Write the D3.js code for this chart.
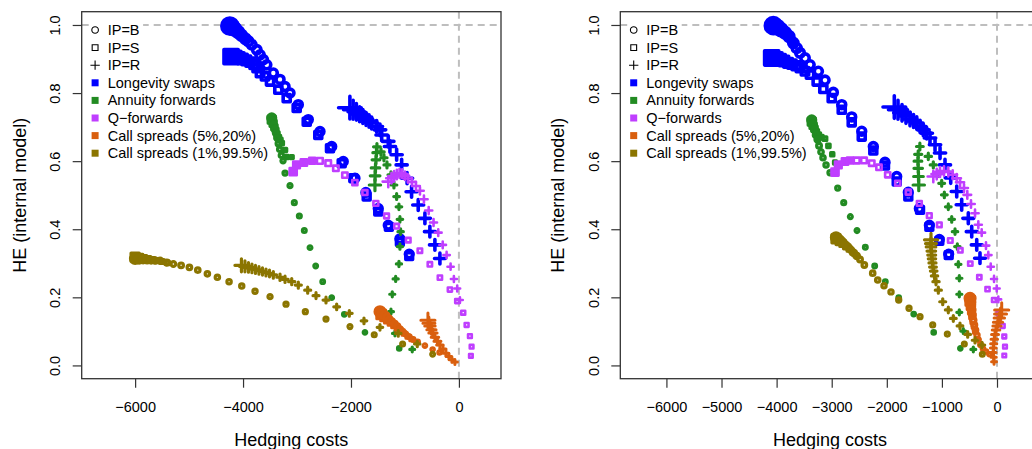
<!DOCTYPE html>
<html>
<head>
<meta charset="utf-8">
<script src="https://cdn.jsdelivr.net/npm/d3@7"></script>
<style>
	body { margin: 0; background: #fff; }
	svg text { font-family: "Liberation Sans", Arial, Helvetica, sans-serif; fill: #000; }
</style>
</head>
<body>
<div id="chart"></div>
<script>
// legend entries and axis ticks
var instruments = ['Longevity swaps', 'Annuity forwards', 'Q\u2212forwards', 'Call spreads (5%,20%)', 'Call spreads (1%,99.5%)'];
var ipLabels = ['IP=B', 'IP=S', 'IP=R'];
var yTicks = [0, 0.2, 0.4, 0.6, 0.8, 1.0];
var xTicksLeft = [-6000, -4000, -2000, 0];
var xTicksRight = [-6000, -5000, -4000, -3000, -2000, -1000, 0];

// left panel, each point is [hedging cost, HE]
var leftLongevityB = [[-4245,0.997],[-4200,0.993],[-4150,0.987],[-4090,0.979],[-4030,0.970],[-3960,0.960],[-3900,0.952],[-3839,0.942],[-3746,0.927],[-3685,0.912],[-3624,0.898],[-3561,0.883],[-3439,0.859],[-3315,0.840],[-3222,0.819],[-3130,0.800],[-2976,0.766],[-2791,0.722],[-2574,0.687],[-2357,0.643],[-2143,0.599],[-1926,0.550],[-1724,0.508],[-1495,0.461],[-1310,0.412],[-1094,0.372],[-921,0.327]];
var leftLongevityS = [[-4222,0.907],[-4150,0.905],[-4080,0.903],[-4010,0.900],[-3940,0.896],[-3870,0.891],[-3800,0.884],[-3746,0.874],[-3685,0.859],[-3593,0.849],[-3500,0.834],[-3346,0.810],[-3191,0.785],[-3006,0.756],[-2820,0.716],[-2606,0.677],[-2389,0.638],[-2172,0.594],[-1957,0.550],[-1709,0.496],[-1495,0.452],[-1298,0.407],[-1094,0.363],[-921,0.321]];
var leftLongevityR = [[-2020,0.757],[-1960,0.751],[-1900,0.745],[-1840,0.738],[-1780,0.731],[-1720,0.724],[-1665,0.718],[-1617,0.712],[-1524,0.702],[-1463,0.692],[-1431,0.677],[-1309,0.658],[-1278,0.643],[-1154,0.619],[-1061,0.589],[-960,0.550],[-877,0.510],[-754,0.471],[-630,0.432],[-538,0.393],[-445,0.354],[-352,0.314]];
var leftAnnuityB = [[-3469,0.727],[-3450,0.716],[-3430,0.705],[-3410,0.694],[-3390,0.682],[-3370,0.668],[-3345,0.652],[-3320,0.635],[-3290,0.617],[-3259,0.601],[-3222,0.565],[-3130,0.528],[-3050,0.478],[-2957,0.439],[-2865,0.396],[-2759,0.346],[-2654,0.292],[-2524,0.246],[-2357,0.199],[-2124,0.150],[-1741,0.097],[-1106,0.050]];
var leftAnnuityS = [[-3469,0.722],[-3445,0.711],[-3420,0.700],[-3395,0.690],[-3370,0.680],[-3340,0.670],[-3310,0.662],[-3283,0.653],[-3222,0.633],[-3191,0.612],[-3098,0.612]];
var leftAnnuityR = [[-1556,0.530],[-1553,0.557],[-1546,0.580],[-1537,0.604],[-1528,0.625],[-1519,0.642],[-1444,0.627],[-1389,0.610],[-1333,0.589],[-1259,0.560],[-1204,0.530],[-1154,0.496],[-1111,0.466],[-1093,0.429],[-1080,0.393],[-1093,0.349],[-1111,0.298],[-1172,0.254],[-1235,0.209],[-1259,0.158],[-1185,0.094],[-865,0.047]];
var leftQforwardS = [[-3071,0.569],[-3009,0.589],[-2873,0.596],[-2719,0.601],[-2577,0.601],[-2422,0.594],[-2280,0.579],[-2113,0.559],[-1928,0.537],[-1742,0.508],[-1539,0.476],[-1341,0.439],[-1155,0.409],[-939,0.368],[-723,0.337],[-538,0.297],[-352,0.258],[-167,0.223],[-31,0.189],[80,0.155],[143,0.119],[204,0.086],[235,0.055],[222,0.028]];
var leftQforwardR = [[-1309,0.540],[-1250,0.550],[-1200,0.556],[-1150,0.561],[-1100,0.564],[-1050,0.563],[-1000,0.557],[-944,0.549],[-870,0.539],[-796,0.527],[-722,0.513],[-648,0.488],[-560,0.455],[-470,0.420],[-383,0.390],[-300,0.354],[-228,0.324],[-154,0.290],[-93,0.254],[-31,0.226],[19,0.192]];
var leftCall5B = [[-1463,0.158],[-1420,0.152],[-1380,0.147],[-1335,0.141],[-1290,0.135],[-1240,0.129],[-1190,0.122],[-1140,0.115],[-1090,0.107],[-1040,0.100],[-985,0.092],[-920,0.084],[-850,0.076],[-765,0.069],[-630,0.058],[-487,0.047],[-360,0.038]];
var leftCall5S = [[-1440,0.150],[-1380,0.142],[-1320,0.134],[-1260,0.126],[-1200,0.118],[-1140,0.110],[-1080,0.102],[-1020,0.094],[-950,0.085],[-880,0.077]];
var leftCall5R = [[-574,0.133],[-556,0.124],[-537,0.116],[-509,0.105],[-481,0.095],[-444,0.083],[-398,0.071],[-352,0.060],[-296,0.048],[-241,0.036],[-185,0.026],[-130,0.017],[-74,0.010]];
var leftCall1B = [[-6000,0.313],[-5926,0.312],[-5852,0.311],[-5778,0.310],[-5704,0.309],[-5630,0.308],[-5537,0.308],[-5413,0.302],[-5291,0.298],[-5148,0.294],[-4994,0.288],[-4839,0.280],[-4661,0.269],[-4476,0.259],[-4259,0.246],[-4024,0.233],[-3778,0.218],[-3500,0.202],[-3204,0.180],[-2846,0.158],[-2463,0.136],[-2019,0.114],[-1569,0.090],[-1043,0.063],[-487,0.033]];
var leftCall1S = [[-6000,0.318],[-5920,0.316],[-5840,0.314],[-5760,0.312],[-5680,0.310],[-5600,0.308],[-5500,0.305],[-5400,0.301]];
var leftCall1R = [[-4030,0.294],[-3965,0.291],[-3900,0.288],[-3835,0.285],[-3770,0.282],[-3705,0.279],[-3640,0.276],[-3575,0.273],[-3510,0.270],[-3439,0.266],[-3315,0.259],[-3222,0.253],[-3098,0.246],[-2976,0.236],[-2802,0.221],[-2648,0.205],[-2463,0.192],[-2265,0.172],[-2031,0.153],[-1759,0.131],[-1463,0.112],[-1124,0.094],[-772,0.063]];

// right panel
var rightLongevityB = [[-4060,0.998],[-3993,0.994],[-3920,0.986],[-3848,0.977],[-3775,0.966],[-3697,0.947],[-3635,0.932],[-3575,0.918],[-3485,0.903],[-3394,0.883],[-3243,0.864],[-3122,0.838],[-2971,0.802],[-2818,0.766],[-2637,0.730],[-2455,0.688],[-2245,0.643],[-2033,0.597],[-1820,0.555],[-1610,0.509],[-1410,0.461],[-1228,0.412],[-1047,0.370],[-877,0.327]];
var rightLongevityS = [[-4089,0.903],[-4011,0.901],[-3938,0.898],[-3866,0.894],[-3793,0.889],[-3721,0.885],[-3648,0.880],[-3575,0.874],[-3485,0.864],[-3394,0.854],[-3272,0.834],[-3152,0.812],[-3000,0.785],[-2818,0.751],[-2637,0.714],[-2455,0.672],[-2245,0.631],[-2033,0.587],[-1820,0.540],[-1610,0.496],[-1397,0.457],[-1228,0.407],[-1047,0.366],[-877,0.324]];
var rightLongevityR = [[-1864,0.759],[-1797,0.751],[-1724,0.742],[-1652,0.733],[-1579,0.724],[-1515,0.718],[-1457,0.712],[-1397,0.702],[-1338,0.692],[-1276,0.682],[-1216,0.668],[-1125,0.648],[-1034,0.624],[-944,0.589],[-840,0.551],[-731,0.511],[-641,0.472],[-521,0.432],[-459,0.393],[-368,0.354],[-309,0.315]];
var rightAnnuityB = [[-3363,0.721],[-3339,0.707],[-3312,0.692],[-3285,0.677],[-3258,0.663],[-3230,0.645],[-3194,0.627],[-3158,0.610],[-3103,0.589],[-3031,0.566],[-2891,0.521],[-2782,0.478],[-2662,0.437],[-2541,0.396],[-2390,0.347],[-2220,0.292],[-2027,0.246],[-1784,0.199],[-1512,0.151],[-1149,0.097],[-666,0.050]];
var rightAnnuityS = [[-3363,0.716],[-3340,0.705],[-3310,0.695],[-3280,0.686],[-3240,0.677],[-3190,0.670],[-3122,0.666],[-3060,0.645],[-2990,0.620],[-2940,0.596]];
var rightAnnuityR = [[-1420,0.530],[-1425,0.555],[-1430,0.579],[-1435,0.600],[-1430,0.620],[-1400,0.643],[-1247,0.614],[-1156,0.589],[-1080,0.563],[-1004,0.535],[-956,0.501],[-884,0.466],[-822,0.429],[-762,0.393],[-720,0.349],[-702,0.297],[-684,0.256],[-684,0.209],[-684,0.156],[-612,0.101],[-430,0.047]];
var rightQforwardS = [[-2940,0.568],[-2880,0.589],[-2759,0.599],[-2668,0.602],[-2546,0.602],[-2414,0.602],[-2274,0.594],[-2142,0.582],[-1984,0.560],[-1802,0.535],[-1610,0.509],[-1410,0.476],[-1229,0.440],[-1047,0.413],[-848,0.367],[-666,0.338],[-485,0.299],[-321,0.259],[-172,0.224],[-54,0.192],[27,0.154],[103,0.116],[132,0.085],[145,0.055],[132,0.029]];
var rightQforwardR = [[-1156,0.555],[-1094,0.562],[-1034,0.568],[-962,0.571],[-884,0.568],[-804,0.560],[-731,0.550],[-671,0.538],[-599,0.521],[-539,0.501],[-472,0.474],[-399,0.447],[-339,0.413],[-278,0.390],[-200,0.352],[-158,0.324],[-114,0.290],[-54,0.254],[-5,0.226],[24,0.194]];
var rightCall5B = [[-490,0.197],[-481,0.186],[-472,0.174],[-459,0.163],[-448,0.148],[-430,0.133],[-412,0.119],[-390,0.104],[-363,0.089],[-339,0.076],[-299,0.061],[-254,0.049],[-200,0.041],[-140,0.033]];
var rightCall5S = [[-485,0.190],[-475,0.175],[-462,0.160],[-448,0.145],[-432,0.130],[-414,0.115],[-395,0.100]];
var rightCall5R = [[85,0.163],[64,0.151],[42,0.139],[18,0.127],[0,0.116],[-18,0.104],[-36,0.091],[-49,0.077],[-60,0.064],[-67,0.051],[-67,0.038],[-60,0.024],[-54,0.011]];
var rightCall1B = [[-2922,0.376],[-2868,0.370],[-2813,0.363],[-2759,0.355],[-2704,0.348],[-2650,0.339],[-2595,0.330],[-2541,0.321],[-2486,0.311],[-2408,0.295],[-2256,0.271],[-2165,0.251],[-2051,0.234],[-1924,0.216],[-1784,0.192],[-1597,0.168],[-1397,0.143],[-1167,0.119],[-902,0.092],[-593,0.063],[-267,0.033]];
var rightCall1S = [[-2922,0.372],[-2860,0.365],[-2800,0.358],[-2740,0.350],[-2680,0.342],[-2620,0.333],[-2560,0.324]];
var rightCall1R = [[-1198,0.369],[-1198,0.358],[-1198,0.348],[-1192,0.336],[-1185,0.324],[-1180,0.313],[-1171,0.301],[-1162,0.289],[-1149,0.277],[-1134,0.263],[-1107,0.246],[-1065,0.221],[-985,0.187],[-884,0.163],[-793,0.138],[-672,0.116],[-532,0.091],[-399,0.074],[-272,0.060]];

var colors = ['#0000FF', '#228B22', '#BF3EFF', '#D95F0E', '#8B7500'];

// marker radius along a series: big head blob, then shrinking slowly
var sizes = [
	{head: 8.0, mid: 4.1, end: 3.8, k: 2.6, sw: 3.6},
	{head: 4.0, mid: 2.3, end: 1.7, k: 2.5, sw: 3.2},
	{head: 4.0, mid: 3.3, end: 2.0, k: 3.0, sw: 2.6},
	{head: 5.0, mid: 2.6, end: 1.7, k: 3.0, sw: 3.0},
	{head: 4.6, mid: 2.5, end: 1.9, k: 2.5, sw: 3.2}
];

var params = {plotTop: 11.7, plotWidth: 419.3, plotHeight: 367, tick: 9, fontSize: 14.5, labelSize: 18};

var panels = [
	{left: 81.7, domain: [-6990, 780], ticks: xTicksLeft, series: [
		{inst: 0, ip: 'S', pts: leftLongevityS}, {inst: 0, ip: 'B', pts: leftLongevityB}, {inst: 0, ip: 'R', pts: leftLongevityR},
		{inst: 1, ip: 'S', pts: leftAnnuityS}, {inst: 1, ip: 'B', pts: leftAnnuityB}, {inst: 1, ip: 'R', pts: leftAnnuityR},
		{inst: 2, ip: 'S', pts: leftQforwardS}, {inst: 2, ip: 'R', pts: leftQforwardR},
		{inst: 3, ip: 'S', pts: leftCall5S}, {inst: 3, ip: 'B', pts: leftCall5B}, {inst: 3, ip: 'R', pts: leftCall5R},
		{inst: 4, ip: 'S', pts: leftCall1S}, {inst: 4, ip: 'B', pts: leftCall1B}, {inst: 4, ip: 'R', pts: leftCall1R}
	]},
	{left: 620.3, domain: [-6837, 773], ticks: xTicksRight, series: [
		{inst: 0, ip: 'S', pts: rightLongevityS}, {inst: 0, ip: 'B', pts: rightLongevityB}, {inst: 0, ip: 'R', pts: rightLongevityR},
		{inst: 1, ip: 'S', pts: rightAnnuityS}, {inst: 1, ip: 'B', pts: rightAnnuityB}, {inst: 1, ip: 'R', pts: rightAnnuityR},
		{inst: 2, ip: 'S', pts: rightQforwardS}, {inst: 2, ip: 'R', pts: rightQforwardR},
		{inst: 3, ip: 'S', pts: rightCall5S}, {inst: 3, ip: 'B', pts: rightCall5B}, {inst: 3, ip: 'R', pts: rightCall5R},
		{inst: 4, ip: 'S', pts: rightCall1S}, {inst: 4, ip: 'B', pts: rightCall1B}, {inst: 4, ip: 'R', pts: rightCall1R}
	]}
];

function markRadius(sz, i, n){
	var t = n > 1 ? i / (n - 1) : 0;
	return sz.end + (sz.mid - sz.end) * (1 - t) + (sz.head - sz.mid) * Math.exp(-i / sz.k);
}

// R style symbols: pch 1 (circle), 0 (square), 3 (plus)
function symbolPath(ip, r){
	if (ip == 'B'){
		return 'M' + r + ',0A' + r + ',' + r + ' 0 1 1 ' + (-r) + ',0A' + r + ',' + r + ' 0 1 1 ' + r + ',0Z';
	} else if (ip == 'S'){
		var h = r * 0.886;
		return 'M' + (-h) + ',' + (-h) + 'H' + h + 'V' + h + 'H' + (-h) + 'Z';
	}
	var a = r * 1.414;
	return 'M' + (-a) + ',0H' + a + 'M0,' + (-a) + 'V' + a;
}

var svg = d3.select('#chart')
	.append('svg')
		.attr('width', 1032)
		.attr('height', 449);

function drawPanel(p){
	var g = svg.append('g')
		.attr('transform', 'translate(' + p.left + ',' + params.plotTop + ')');

	var x = d3.scaleLinear().domain(p.domain).range([0, params.plotWidth]);
	var y = d3.scaleLinear().domain([-0.039, 1.039]).range([params.plotHeight, 0]);

	// reference lines at full hedge and zero cost
	g.append('line')
		.attr('x1', 0).attr('x2', params.plotWidth)
		.attr('y1', y(1)).attr('y2', y(1))
		.attr('stroke', '#BEBEBE').attr('stroke-width', 2).attr('stroke-dasharray', '7,5');
	g.append('line')
		.attr('x1', x(0)).attr('x2', x(0))
		.attr('y1', 0).attr('y2', params.plotHeight)
		.attr('stroke', '#BEBEBE').attr('stroke-width', 2).attr('stroke-dasharray', '7,5');

	// x axis
	var xg = g.append('g')
		.attr('transform', 'translate(0,' + params.plotHeight + ')')
		.call(d3.axisBottom(x).tickValues(p.ticks).tickSize(params.tick).tickFormat(d3.format('d')));
	xg.select('.domain').remove();
	xg.selectAll('line').attr('stroke', '#333').attr('stroke-width', 1.2);
	xg.selectAll('text')
		.attr('y', 28).attr('dy', '0.35em')
		.style('font-size', params.fontSize + 'px')
		.style('font-family', '"Liberation Sans", Arial, sans-serif')
		.attr('fill', '#000');

	// y axis, labels turned like R does
	var yg = g.append('g')
		.call(d3.axisLeft(y).tickValues(yTicks).tickSize(params.tick).tickFormat(d3.format('.1f')));
	yg.select('.domain').remove();
	yg.selectAll('line').attr('stroke', '#333').attr('stroke-width', 1.2);
	yg.selectAll('text')
		.attr('x', 0).attr('y', 0).attr('dy', '0.35em')
		.attr('transform', 'translate(-26.5,0) rotate(-90)')
		.attr('text-anchor', 'middle')
		.style('font-size', params.fontSize + 'px')
		.style('font-family', '"Liberation Sans", Arial, sans-serif')
		.attr('fill', '#000');

	// box round the plot
	g.append('rect')
		.attr('width', params.plotWidth)
		.attr('height', params.plotHeight)
		.attr('fill', 'none')
		.attr('stroke', '#333')
		.attr('stroke-width', 1.3);

	// axis titles
	g.append('text')
		.attr('x', params.plotWidth / 2)
		.attr('y', params.plotHeight + 61.3)
		.attr('dy', '0.35em')
		.attr('text-anchor', 'middle')
		.style('font-size', params.labelSize + 'px')
		.text('Hedging costs');
	g.append('text')
		.attr('transform', 'translate(-62.3,' + (params.plotHeight / 2) + ') rotate(-90)')
		.attr('dy', '0.35em')
		.attr('text-anchor', 'middle')
		.style('font-size', params.labelSize + 'px')
		.text('HE (internal model)');

	// all the point series; the big overlapping head marks read as a solid blob
	p.series.forEach(function(s){
		var sz = sizes[s.inst];
		var n = s.pts.length;
		var solidFrom = sz.mid + 0.12 * (sz.head - sz.mid);
		g.append('g').selectAll('.pt')
			.data(s.pts).enter()
			.append('path')
				.attr('class', 'pt')
				.attr('transform', function(d){ return 'translate(' + x(d[0]) + ',' + y(d[1]) + ')'; })
				.attr('d', function(d, i){ return symbolPath(s.ip, markRadius(sz, i, n)); })
				.attr('fill', function(d, i){
					return (s.ip != 'R' && markRadius(sz, i, n) > solidFrom) ? colors[s.inst] : 'none';
				})
				.attr('stroke', colors[s.inst])
				.attr('stroke-width', sz.sw)
				.attr('stroke-linecap', 'round')
				.attr('stroke-linejoin', 'round');
	});

	// legend: white patch behind the IP entries hides the dashed line
	var lg = g.append('g').attr('transform', 'translate(13.4,18.3)');
	lg.append('rect')
		.attr('x', -6).attr('y', -8.5)
		.attr('width', 54).attr('height', 52)
		.attr('fill', '#fff');
	var rowH = 17.6;
	ipLabels.forEach(function(lab, i){
		var ip = lab.slice(-1);
		lg.append('path')
			.attr('transform', 'translate(0,' + (i * rowH) + ')')
			.attr('d', symbolPath(ip, 3.3))
			.attr('fill', 'none').attr('stroke', '#000').attr('stroke-width', 1.1);
		lg.append('text')
			.attr('x', 12.6).attr('y', i * rowH).attr('dy', '0.35em')
			.style('font-size', params.fontSize + 'px')
			.text(lab);
	});
	instruments.forEach(function(lab, i){
		var yy = (i + 3) * rowH;
		lg.append('rect')
			.attr('x', -3.5).attr('y', yy - 3.5)
			.attr('width', 7).attr('height', 7)
			.attr('fill', colors[i]);
		lg.append('text')
			.attr('x', 12.6).attr('y', yy).attr('dy', '0.35em')
			.style('font-size', params.fontSize + 'px')
			.text(lab);
	});
}

panels.forEach(drawPanel);
</script>
</body>
</html>
